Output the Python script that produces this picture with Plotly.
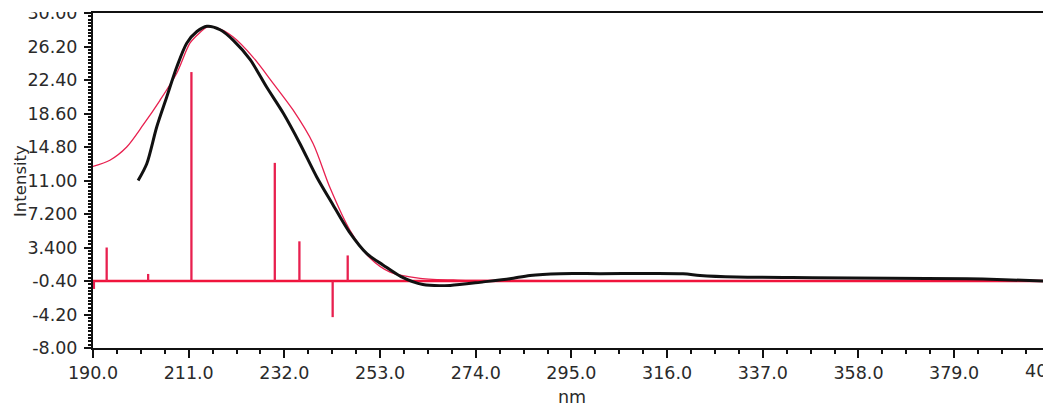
import plotly.graph_objects as go

# ---- data ----
red_x = [190.0, 193.7, 197.4, 201.0, 204.7, 208.4, 211.3, 213.5, 215.0, 217.2, 220.7, 225.1,
         229.5, 233.9, 238.3, 242.0, 246.4, 250.8, 255.2, 261.8, 270.0, 300.0, 350.0, 398.5]
red_y = [12.6, 13.3, 14.8, 17.3, 20.1, 23.2, 26.6, 27.8, 28.4, 28.3, 27.3, 25.0,
         22.05, 19.0, 15.2, 10.2, 5.35, 2.2, 0.6, -0.1, -0.3, -0.35, -0.35, -0.4]

black_x = [199.9, 201.8, 204.0, 206.2, 208.4, 210.6, 212.8, 215.0, 217.9, 220.8, 224.5, 228.1,
           231.8, 235.4, 239.1, 242.6, 246.2, 250.1, 253.7, 257.6, 262.4, 268.4, 275.7, 281.5,
           285.9, 292.5, 301.3, 319.5, 323.2, 331.3, 348.0, 365.0, 381.8, 390.0, 398.5]
black_y = [11.0, 12.9, 17.1, 20.5, 23.9, 26.6, 27.9, 28.5, 28.1, 26.9, 24.7, 21.6,
           18.6, 15.2, 11.4, 8.3, 5.2, 2.7, 1.4, 0.1, -0.8, -0.9, -0.5, -0.15,
           0.23, 0.43, 0.43, 0.43, 0.23, 0.05, -0.02, -0.08, -0.15, -0.25, -0.4]

stick_x = [190.2, 193.0, 202.1, 211.6, 229.9, 235.3, 242.6, 245.9]
stick_y = [-1.3, 3.4, 0.4, 23.3, 13.0, 4.1, -4.5, 2.5]
baseline_y = -0.4

x_range = [190.0, 398.5]
y_range = [-8.0, 30.0]
x_tickvals = [190.0, 211.0, 232.0, 253.0, 274.0, 295.0, 316.0, 337.0, 358.0, 379.0, 400.0]
x_ticktext = ["190.0", "211.0", "232.0", "253.0", "274.0", "295.0", "316.0", "337.0", "358.0", "379.0", "400.0"]
y_tickvals = [30.0, 26.2, 22.4, 18.6, 14.8, 11.0, 7.2, 3.4, -0.4, -4.2, -8.0]
y_ticktext = ["30.00", "26.20", "22.40", "18.60", "14.80", "11.00", "7.200", "3.400", "-0.40", "-4.20", "-8.00"]

RED = "#e8204f"
FONT = "DejaVu Sans"
FS = 17.5
TXT = "#2a2a2a"

# plot-area geometry (pixels in the 1043x404 figure)
L, T, B_PX = 93, 13, 348
PLOT_H = B_PX - T

# stick segments built from data
sx, sy = [], []
for xv, yv in zip(stick_x, stick_y):
    sx += [xv, xv, None]
    sy += [baseline_y, yv, None]

fig = go.Figure()
fig.add_trace(go.Scatter(x=red_x, y=red_y, mode="lines",
                         line=dict(color=RED, width=1.3, shape="spline", smoothing=0.8),
                         hoverinfo="skip", showlegend=False))
fig.add_trace(go.Scatter(x=[x_range[0], x_range[1]], y=[baseline_y, baseline_y], mode="lines",
                         line=dict(color="#f0143c", width=2.5),
                         hoverinfo="skip", showlegend=False))
fig.add_trace(go.Scatter(x=sx, y=sy, mode="lines",
                         line=dict(color=RED, width=2.3),
                         hoverinfo="skip", showlegend=False))
fig.add_trace(go.Scatter(x=black_x, y=black_y, mode="lines",
                         line=dict(color="#111111", width=3, shape="spline", smoothing=0.8),
                         hoverinfo="skip", showlegend=False))

fig.update_layout(
    width=1043, height=404,
    margin=dict(l=L, r=0, t=T, b=404 - B_PX, autoexpand=False),
    paper_bgcolor="white", plot_bgcolor="white",
    font=dict(family=FONT, size=FS, color=TXT),
    showlegend=False,
    xaxis=dict(range=x_range, tickvals=x_tickvals[:-1], ticktext=x_ticktext[:-1],
               showgrid=False, zeroline=False, automargin=False,
               showline=True, linecolor="#111111", linewidth=1.5, mirror=True,
               ticks="outside", ticklen=8, tickwidth=2, tickcolor="#111111",
               minor=dict(dtick=5.25, tick0=190, ticks="outside", ticklen=4, tickwidth=2,
                          tickcolor="#111111", showgrid=False),
               ticklabelstandoff=0,
               tickfont=dict(family=FONT, size=FS, color=TXT)),
    yaxis=dict(range=y_range, tickvals=y_tickvals, ticktext=y_ticktext,
               showgrid=False, zeroline=False, automargin=False,
               showline=True, linecolor="#111111", linewidth=2,
               ticks="outside", ticklen=7, tickwidth=2, tickcolor="#111111",
               minor=dict(dtick=0.38, tick0=-8.0, ticks="outside", ticklen=3, tickwidth=1.5,
                          tickcolor="#111111", showgrid=False),
               ticklabelstandoff=3,
               tickfont=dict(family=FONT, size=FS, color=TXT)),
)

# last x tick label (400.0), cut by the right edge as in the reference
x_span = x_range[1] - x_range[0]
fig.add_annotation(x=(x_tickvals[-1] - x_range[0]) / x_span, y=0,
                   xref="paper", yref="paper", xanchor="center", yanchor="top", yshift=-11,
                   text=x_ticktext[-1], showarrow=False, font=dict(family=FONT, size=FS, color=TXT))
# axis titles
fig.add_annotation(x=(572 - L) / 950, y=(B_PX - 397) / PLOT_H, xref="paper", yref="paper",
                   xanchor="center", yanchor="middle",
                   text="nm", showarrow=False, font=dict(family=FONT, size=FS, color=TXT))
fig.add_annotation(x=(20 - L) / 950, y=(B_PX - 181) / PLOT_H, xref="paper", yref="paper",
                   xanchor="center", yanchor="middle",
                   text="Intensity", textangle=-90, showarrow=False,
                   font=dict(family=FONT, size=16.5, color=TXT))

# white band clipping the top of the "30.00" label like in the reference
fig.add_shape(type="rect", xref="paper", yref="paper",
              x0=-0.098, x1=-0.004, y0=(B_PX - 12) / PLOT_H, y1=(B_PX + 2) / PLOT_H,
              fillcolor="white", line=dict(width=0), layer="above")

fig.write_html("out.html", config=dict(displayModeBar=False),
               post_script="document.body.style.margin='0';document.body.style.overflow='hidden';")
